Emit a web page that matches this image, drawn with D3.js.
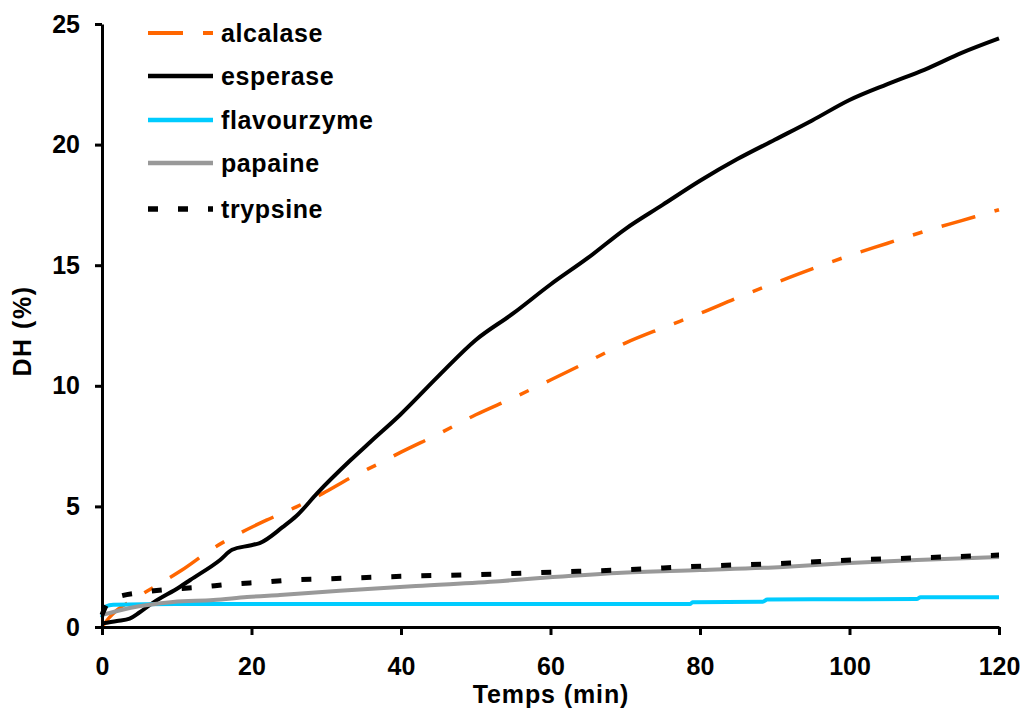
<!DOCTYPE html>
<html><head><meta charset="utf-8">
<script src="https://cdn.jsdelivr.net/npm/d3@7"></script>
<style>body{margin:0;background:#fff}svg{display:block}text{font-family:"Liberation Sans",Arial,sans-serif;font-weight:bold}</style>
</head><body><svg id="c" width="1025" height="722"></svg>
<script>
const xTicks = [0,20,40,60,80,100,120];
const yTicks = [0,5,10,15,20,25];
const seriesNames = ["alcalase","esperase","flavourzyme","papaine","trypsine"];
const alcalase = [[0,0],[1,0.4],[2,0.7],[4,1.1],[7.4,1.74],[10.7,2.36],[14.9,3.27],[18.5,3.9],[22,4.43],[26,4.98],[29.6,5.55],[33.2,6.18],[37.2,6.8],[40,7.25],[45,8.0],[50,8.8],[55,9.5],[60,10.24],[65,11.0],[70,11.77],[75,12.4],[80,13.0],[85,13.65],[90,14.26],[95,14.85],[100,15.4],[105,15.9],[110,16.4],[115,16.85],[120,17.3]];
const esperase = [[0,0.15],[2,0.25],[3.7,0.35],[5,0.6],[6.8,1.0],[10.4,1.66],[11.8,1.95],[15.8,2.78],[17.4,3.2],[19.8,3.38],[21.1,3.48],[24.2,4.15],[26,4.6],[28.8,5.55],[33.2,6.9],[36,7.7],[39.9,8.8],[45,10.4],[50,11.9],[55,13.0],[60,14.2],[65,15.3],[70,16.5],[75,17.5],[80,18.5],[85,19.4],[90,20.2],[95,21.0],[100,21.85],[105,22.5],[110,23.1],[115,23.8],[120,24.4]];
const flavourzyme = [[0,0.4],[0.5,0.85],[1.5,0.92],[10,0.95],[78.7,0.95],[79,1.03],[88.4,1.05],[89,1.14],[109,1.16],[109.5,1.23],[120,1.23]];
const papaine = [[0,0.5],[3.7,0.79],[9.5,1.04],[14.9,1.12],[19.4,1.24],[23.8,1.33],[31.8,1.5],[42,1.7],[53.2,1.9],[60.3,2.07],[68.9,2.24],[80,2.36],[91.1,2.49],[100,2.65],[109,2.78],[120,2.9]];
const trypsine = [[0,0.5],[1,1.1],[1.7,1.2],[5.8,1.45],[13.5,1.66],[17.5,1.78],[21.5,1.86],[25.4,1.95],[29.4,1.99],[40,2.1],[53.2,2.2],[61,2.28],[68.9,2.36],[80.7,2.53],[92,2.65],[100.5,2.78],[108.5,2.86],[120,2.98]];

const seriesData = [alcalase, esperase, flavourzyme, papaine, trypsine];
const styles = [
  {color:"#FF6600", w:3.5, dash:"35,20,10,20"},
  {color:"#000000", w:4, dash:null},
  {color:"#00CCFF", w:4, dash:null},
  {color:"#999999", w:4, dash:null},
  {color:"#000000", w:5, dash:"10,20"}
];

const svg = d3.select("#c");
const L=102, R=999, T=24, B=627;
const x = d3.scaleLinear().domain([0,120]).range([L,R]);
const y = d3.scaleLinear().domain([0,25]).range([B,T]);

const line = d3.line().x(d=>x(d[0])).y(d=>y(d[1])).curve(d3.curveMonotoneX);
seriesData.forEach((s,i)=>{
  svg.append("path").attr("d",line(s)).attr("fill","none")
    .attr("stroke",styles[i].color).attr("stroke-width",styles[i].w)
    .attr("stroke-dasharray",styles[i].dash).attr("stroke-linejoin","round");
});

const xa = svg.append("g").attr("transform",`translate(0,${B})`)
  .call(d3.axisBottom(x).tickValues(xTicks).tickSize(8).tickSizeOuter(0).tickPadding(22));
const ya = svg.append("g").attr("transform",`translate(${L},0)`)
  .call(d3.axisLeft(y).tickValues(yTicks).tickSize(7).tickSizeOuter(0).tickPadding(15));
[xa,ya].forEach(a=>{
  a.select(".domain").attr("stroke","#000").attr("stroke-width",3);
  a.selectAll(".tick line").attr("stroke","#000").attr("stroke-width",3);
  a.selectAll(".tick text").attr("fill","#000").style("font-size","25px")
   .style("font-family","'Liberation Sans',Arial,sans-serif").style("font-weight","bold");
});

svg.append("text").attr("x",551).attr("y",703).attr("text-anchor","middle")
  .style("font-size","25px").style("letter-spacing","0.9px").text("Temps (min)");
svg.append("text").attr("transform","translate(31,331) rotate(-90)").attr("text-anchor","middle")
  .style("font-size","25px").style("letter-spacing","1.5px").text("DH (%)");

const legY = [33,76,120,163,209];
seriesNames.forEach((n,i)=>{
  svg.append("line").attr("x1",148).attr("x2",213).attr("y1",legY[i]).attr("y2",legY[i])
    .attr("stroke",styles[i].color).attr("stroke-width",styles[i].w+0.5)
    .attr("stroke-dasharray",styles[i].dash);
  svg.append("text").attr("x",221).attr("y",legY[i]).attr("dy","0.36em")
    .style("font-size","25px").style("letter-spacing","0.6px").text(n);
});
</script></body></html>
